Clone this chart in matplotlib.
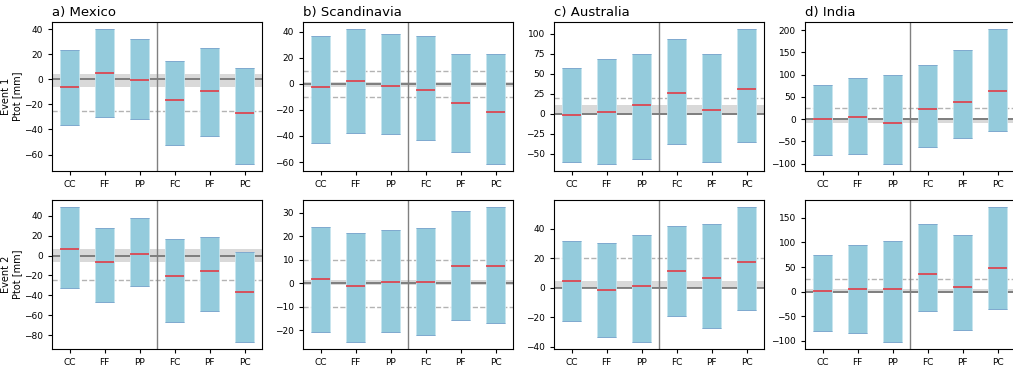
import numpy as np
import matplotlib
matplotlib.use('Agg')
from matplotlib import pyplot as plt

categories = ['CC', 'FF', 'PP', 'FC', 'PF', 'PC']
regions = ['a) Mexico', 'b) Scandinavia', 'c) Australia', 'd) India']
events = ['Event 1\nPtot [mm]', 'Event 2\nPtot [mm]']

# event 1: maximum, minimum and median per category
mexico_e1_max = [23.3, 40.2, 32.0, 14.6, 24.9, 9.0]
mexico_e1_min = [-36.5, -29.9, -32.0, -52.6, -45.5, -67.7]
mexico_e1_med = [-6.0, 5.0, -0.5, -16.4, -9.0, -26.7]
scand_e1_max = [36.9, 42.3, 38.5, 36.7, 22.9, 22.9]
scand_e1_min = [-45.4, -37.8, -38.2, -42.8, -52.3, -61.7]
scand_e1_med = [-2.6, 2.5, -1.5, -4.6, -15.0, -21.7]
austr_e1_max = [57.0, 68.2, 74.4, 93.0, 74.4, 106.2]
austr_e1_min = [-60.4, -62.9, -56.3, -37.2, -60.4, -35.2]
austr_e1_med = [-1.2, 2.5, 11.2, 26.0, 5.0, 31.0]
india_e1_max = [77.6, 92.6, 100.0, 120.8, 155.3, 203.0]
india_e1_min = [-79.7, -77.4, -101.3, -62.6, -41.6, -26.8]
india_e1_med = [0.5, 4.5, -8.9, 21.7, 38.9, 63.5]

# event 2
mexico_e2_max = [49.0, 28.0, 37.7, 17.0, 19.0, 3.3]
mexico_e2_min = [-32.3, -47.0, -30.3, -66.7, -55.3, -87.0]
mexico_e2_med = [7.0, -6.7, 2.0, -21.0, -15.0, -36.3]
scand_e2_max = [24.1, 21.5, 22.5, 23.4, 30.7, 32.6]
scand_e2_min = [-20.8, -25.2, -21.0, -22.3, -15.9, -17.0]
scand_e2_med = [1.8, -1.0, 0.7, 0.4, 7.5, 7.5]
austr_e2_max = [31.6, 30.4, 35.6, 42.0, 43.4, 55.0]
austr_e2_min = [-22.3, -33.2, -37.0, -18.9, -27.5, -15.0]
austr_e2_med = [4.5, -1.4, 0.9, 11.1, 6.8, 17.2]
india_e2_max = [75.0, 95.3, 103.4, 137.8, 115.0, 172.3]
india_e2_min = [-80.3, -84.3, -102.6, -39.8, -77.0, -35.7]
india_e2_med = [0.7, 4.7, 6.1, 35.9, 10.1, 48.0]

# observed range (grey band) and reference levels (dashed)
band_e1 = [(-6.0, 4.3), (-2.6, 1.8), (-1.0, 11.5), (-9.0, 2.0)]
band_e2 = [(-6.3, 7.0), (-0.6, 1.5), (-0.5, 4.8), (-2.7, 4.7)]
dashed_levels = [[-25], [-10, 10], [20], [25]]

rows = [
    [(mexico_e1_max, mexico_e1_min, mexico_e1_med),
     (scand_e1_max, scand_e1_min, scand_e1_med),
     (austr_e1_max, austr_e1_min, austr_e1_med),
     (india_e1_max, india_e1_min, india_e1_med)],
    [(mexico_e2_max, mexico_e2_min, mexico_e2_med),
     (scand_e2_max, scand_e2_min, scand_e2_med),
     (austr_e2_max, austr_e2_min, austr_e2_med),
     (india_e2_max, india_e2_min, india_e2_med)],
]
bands = [band_e1, band_e2]


def plot_panel(ax, top, bottom, median, band, levels):
    x = np.arange(len(categories))
    top = np.asarray(top)
    bottom = np.asarray(bottom)
    width = 0.52
    ax.axhspan(band[0], band[1], color='#d9d9d9', zorder=0, lw=0)
    ax.axhline(0, color='0.4', lw=1.1, zorder=1)
    for level in levels:
        ax.axhline(level, color='0.7', lw=1, ls='--', zorder=1)
    ax.axvline(2.5, color='0.5', lw=1, zorder=1)
    ax.bar(x, top - bottom, bottom=bottom, width=width, color='#94cbdc',
           edgecolor='#c8e6ef', lw=0.6, zorder=2)
    ax.hlines(top, x - width / 2, x + width / 2, color='#7ea9cf', lw=0.7, zorder=3)
    ax.hlines(bottom, x - width / 2, x + width / 2, color='#7ea9cf', lw=0.7, zorder=3)
    ax.hlines(median, x - width / 2, x + width / 2, color='#e8313a', lw=1.1, zorder=4)
    lo, hi = bottom.min(), top.max()
    pad = 0.05 * (hi - lo)
    ax.set_ylim(lo - pad, hi + pad)
    ax.set_xticks(x)
    ax.set_xticklabels(categories)
    ax.set_xlim(-0.5, 5.5)
    ax.tick_params(labelsize=6.5, length=3, width=0.8)


def main():
    fig = plt.figure(figsize=(10.13, 3.68), dpi=100)
    lefts = [52, 303, 554, 805]
    tops = [22, 200]
    w, h = 210, 149
    for i, row in enumerate(rows):
        for j, (top, bottom, median) in enumerate(row):
            ax = fig.add_axes([lefts[j] / 1013, 1 - (tops[i] + h) / 368,
                               w / 1013, h / 368])
            plot_panel(ax, top, bottom, median, bands[i][j], dashed_levels[j])
            if i == 0:
                ax.set_title(regions[j], loc='left', fontsize=9.5, pad=4)
            if j == 0:
                ax.set_ylabel(events[i], fontsize=7, labelpad=1)
    fig.savefig('out.png', dpi=100)


if __name__ == '__main__':
    main()
